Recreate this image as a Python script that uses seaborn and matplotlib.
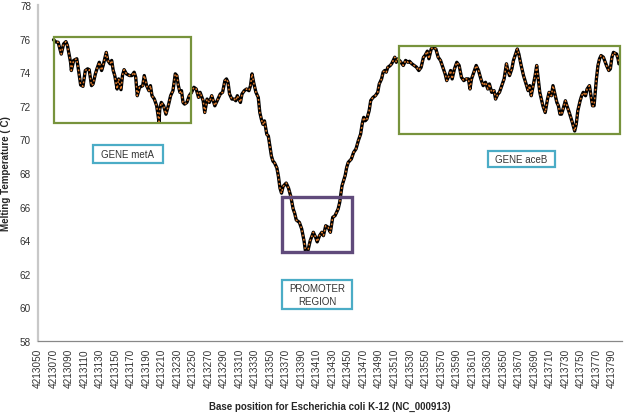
import matplotlib
matplotlib.use("Agg")
import matplotlib.pyplot as plt
import seaborn as sns
import pandas as pd
from matplotlib.patches import Rectangle

# ---- data ----
offsets = [20, 23, 26, 30, 33, 36, 38, 42, 43, 46, 50, 52, 55, 58, 61, 64, 66, 69, 71, 74,
           76, 79, 82, 84, 88, 90, 93, 95, 97, 99, 102, 104, 107, 109, 111, 114, 118, 121, 124, 126,
           128, 131, 135, 137, 140, 143, 145, 147, 150, 153, 156, 157, 159, 162, 165, 168, 171, 174, 177, 179,
           181, 183, 185, 187, 189, 192, 195, 198, 201, 204, 207, 209, 213, 215, 218, 221, 224, 226, 228, 231,
           235, 238, 241, 243, 245, 247, 250, 253, 255, 257, 259, 261, 263, 266, 269, 272, 274, 276, 278, 281,
           284, 286, 288, 290, 292, 295, 297, 299, 301, 303, 305, 308, 310, 312, 314, 316, 320, 323, 326, 329,
           331, 333, 337, 340, 343, 345, 348, 351, 355, 358, 360, 363, 366, 368, 371, 374, 377, 380, 383, 387,
           389, 392, 396, 398, 400, 404, 407, 410, 413, 416, 418, 420, 422, 424, 427, 429, 432, 435, 438, 440,
           443, 445, 447, 449, 451, 454, 456, 458, 460, 462, 464, 467, 471, 474, 477, 479, 482, 485, 488, 491,
           494, 497, 499, 502, 504, 507, 509, 513, 516, 519, 522, 525, 527, 530, 532, 534, 537, 540, 543, 546,
           549, 552, 555, 557, 559, 562, 565, 568, 571, 574, 577, 580, 582, 585, 588, 590, 593, 595, 598, 601,
           604, 606, 608, 611, 613, 618, 620, 623, 626, 630, 632, 634, 636, 638, 641, 643, 645, 647, 649, 651,
           654, 657, 659, 662, 664, 666, 669, 671, 673, 675, 677, 680, 682, 685, 687, 689, 692, 694, 696, 699,
           701, 703, 706, 708, 711, 713, 715, 717, 720, 722, 724, 726, 729, 733, 736, 738, 740, 742, 746, 748,
           749]
temps = [75.93, 75.8, 75.78, 75.08, 75.68, 75.82, 75.58, 74.59, 74.1, 74.7, 74.8, 74.2, 73.24, 73.16, 74.1, 74.2, 74.15, 73.2, 73.3, 73.9,
         74.2, 74.59, 74.1, 74.4, 75.18, 74.7, 74.5, 74.7, 74.1, 73.8, 73.0, 73.6, 72.96, 73.83, 74.15, 73.9, 73.8, 73.8, 74.0, 73.7,
         72.6, 73.1, 73.2, 73.8, 73.2, 72.9, 73.2, 72.6, 72.4, 72.0, 71.05, 71.8, 72.2, 72.0, 71.5, 72.0, 72.6, 72.9, 73.9, 73.8,
         73.2, 72.8, 72.9, 72.2, 72.1, 72.2, 72.6, 72.8, 73.1, 73.0, 72.5, 72.8, 72.3, 71.6, 72.4, 72.2, 72.6, 72.3, 72.0, 72.3,
         72.7, 72.8, 73.5, 73.6, 73.4, 72.7, 72.4, 72.4, 72.3, 72.6, 72.4, 72.2, 72.7, 72.9, 73.0, 72.9, 73.2, 73.9, 73.4, 72.8,
         72.5, 71.6, 71.2, 70.9, 71.1, 70.3, 70.2, 69.6, 69.0, 68.7, 68.6, 68.3, 67.8, 67.1, 66.8, 67.2, 67.4, 67.1, 66.6, 65.86,
         65.6, 65.2, 65.06, 64.67, 63.97, 63.3, 63.37, 63.97, 64.47, 64.17, 63.9, 64.27, 64.47, 64.27, 64.86, 64.77, 64.47, 65.36, 65.46, 65.86,
         66.25, 67.24, 67.84, 68.33, 68.63, 68.83, 69.23, 69.43, 69.92, 70.32, 70.92, 71.31, 71.11, 71.21, 71.71, 72.31, 72.5, 72.6, 72.8, 73.3,
         73.6, 74.0, 74.1, 74.0, 74.29, 74.39, 74.5, 74.7, 74.89, 74.59, 74.79, 74.65, 74.4, 74.7, 74.59, 74.65, 74.5, 74.4, 74.3, 74.1,
         74.29, 74.89, 74.99, 75.25, 74.8, 75.38, 75.48, 75.38, 74.89, 74.7, 74.29, 73.89, 73.5, 73.8, 74.1, 73.6, 74.2, 74.59, 74.4, 73.7,
         73.5, 73.6, 73.6, 73.0, 73.6, 74.0, 74.4, 74.1, 73.6, 73.2, 73.4, 73.0, 73.3, 72.8, 72.9, 72.4, 72.7, 72.8, 73.2, 73.6,
         74.5, 74.1, 73.8, 74.2, 74.7, 75.38, 75.08, 74.4, 73.8, 73.2, 72.9, 73.2, 72.6, 73.1, 73.8, 74.4, 73.6, 72.8, 72.4, 72.0,
         71.6, 72.4, 72.8, 72.6, 73.2, 72.8, 72.2, 72.0, 71.5, 71.5, 71.8, 72.3, 72.0, 71.6, 71.3, 71.0, 70.5, 70.9, 71.7, 72.3,
         72.6, 72.8, 72.6, 73.0, 73.2, 72.6, 72.0, 72.0, 73.6, 74.4, 74.79, 74.99, 74.89, 74.4, 74.1, 74.2, 74.89, 75.18, 75.08, 74.79,
         74.5]
base_start = 4213050
positions = [base_start + o for o in offsets]
tick_positions = list(range(4213050, 4213791, 20))
tick_labels = [str(t) for t in tick_positions]
y_ticks = list(range(58, 79, 2))

region_names = ["GENE metA", "PROMOTER\nREGION", "GENE aceB"]

df = pd.DataFrame({"position": positions, "temp": temps})

# ---- figure ----
sns.set_style("white")
plt.rcParams["font.family"] = ["Liberation Sans", "DejaVu Sans"]

fig = plt.figure(figsize=(6.25, 4.14), dpi=100)
ax = fig.add_axes([0.0608, 0.174, 0.9344, 0.8115])

sns.lineplot(data=df, x="position", y="temp", ax=ax, color="black", linewidth=2.4, zorder=3)
sns.lineplot(data=df, x="position", y="temp", ax=ax, color="#E07B2C", linewidth=1.1,
             linestyle=(0, (1.2, 1.6)), zorder=4)

ax.set_xlim(4213050, 4213803)
ax.set_ylim(58, 78)
ax.set_xticks(tick_positions)
ax.set_xticklabels(tick_labels, rotation=90, fontsize=7.2, color="#333333")
ax.set_yticks(y_ticks)
ax.set_yticklabels([str(v) for v in y_ticks], fontsize=7.2, color="#333333")
ax.tick_params(axis="x", direction="out", length=3, width=0.8, color="#888888", pad=2)
ax.tick_params(axis="y", direction="out", length=3, width=0.8, color="#888888", pad=2)
ax.grid(False)

for s in ["top", "right"]:
    ax.spines[s].set_visible(False)
ax.spines["left"].set_color("#C8C8C8")
ax.spines["left"].set_linewidth(1.6)
ax.spines["bottom"].set_color("#888888")
ax.spines["bottom"].set_linewidth(0.9)

ax.set_xlabel("Base position for Escherichia coli K-12 (NC_000913)", fontsize=7, fontweight="bold", labelpad=10)
ax.set_ylabel("Melting Temperature ( C)", fontsize=7, fontweight="bold", labelpad=6)

# region boxes
ax.add_patch(Rectangle((4213071, 71.0), 176, 5.08, fill=False, edgecolor="#77933C", linewidth=1.6, zorder=5))
ax.add_patch(Rectangle((4213516, 70.32), 285, 5.22, fill=False, edgecolor="#77933C", linewidth=1.6, zorder=5))
ax.add_patch(Rectangle((4213364, 63.32), 91, 3.23, fill=False, edgecolor="#604A7B", linewidth=2.4, zorder=5))

# label boxes
label_boxes = [((4213121, 68.6), 90, 1.07),
               ((4213365, 59.9), 90, 1.73),
               ((4213630, 68.34), 86, 0.99)]
for name, (xy, w, h) in zip(region_names, label_boxes):
    ax.add_patch(Rectangle(xy, w, h, fill=True, facecolor="white", edgecolor="#4BACC6", linewidth=1.6, zorder=5))
    ax.text(xy[0] + w / 2, xy[1] + h / 2, name, ha="center", va="center", multialignment="center",
            fontsize=7, color="#333333", zorder=6, linespacing=1.35)

fig.savefig("out.png", dpi=100)
